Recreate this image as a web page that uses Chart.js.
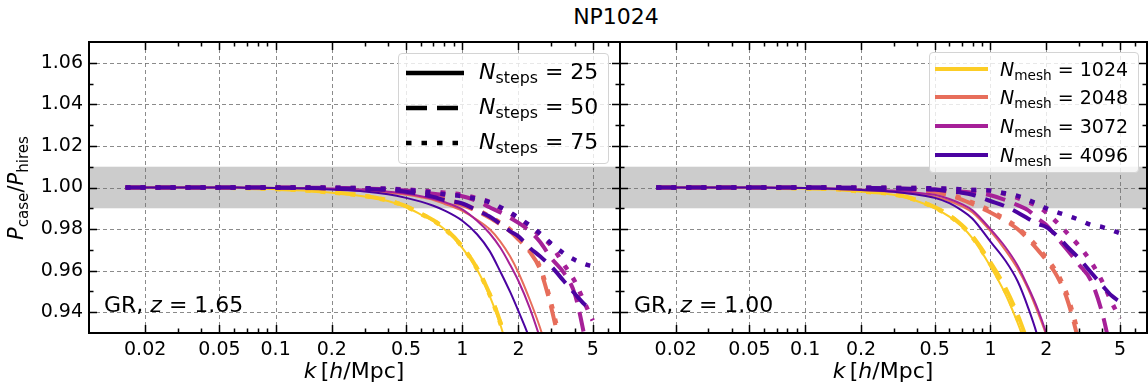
<!DOCTYPE html>
<html>
<head>
<meta charset="utf-8">
<script src="https://cdn.jsdelivr.net/npm/chart.js@4.4.1/dist/chart.umd.min.js"></script>
<style>
  body { margin: 0; background: #fff; }
  #wrap { position: relative; width: 1148px; height: 385px; overflow: hidden; font-family: "DejaVu Sans", sans-serif; color: #000; }
  canvas { position: absolute; }
  .t { position: absolute; white-space: nowrap; }
  .sb { font-size: 0.72em; position: relative; top: 0.3em; }
  .box { position: absolute; border: 1px solid #d4d4d4; border-radius: 4px; background: rgba(255,255,255,0.8); }
  .box svg { position: absolute; }
</style>
</head>
<body>
<div id="wrap">
  <canvas id="left" width="625" height="330" style="left:0;top:30px"></canvas>
  <canvas id="right" width="548" height="330" style="left:600px;top:30px"></canvas>

  <div class="t" style="left:516px;top:4px;width:200px;text-align:center;font-size:22px;line-height:26px">NP1024</div>

  <div class="t" style="left:-84px;top:175px;width:200px;height:26px;line-height:26px;text-align:center;font-size:21px;transform:rotate(-90deg)"><i>P</i><span class="sb">case</span>/<i>P</i><span class="sb">hires</span></div>
  <div class="t" style="left:254px;top:358px;width:200px;text-align:center;font-size:22px;line-height:26px"><i>k</i>&#8201;[<i>h</i>/Mpc]</div>
  <div class="t" style="left:783px;top:358px;width:200px;text-align:center;font-size:22px;line-height:26px"><i>k</i>&#8201;[<i>h</i>/Mpc]</div>

  <div class="t" style="left:104px;top:292px;font-size:22px;line-height:26px">GR, <i>z</i> = 1.65</div>
  <div class="t" style="left:634px;top:292px;font-size:22px;line-height:26px">GR, <i>z</i> = 1.00</div>

  <div class="box" id="legSteps" style="left:398px;top:53px;width:209px;height:109px"></div>
  <div class="box" id="legMesh" style="left:929px;top:52px;width:208px;height:119px"></div>
</div>

<script>
// wavenumber grid shared by every curve, k in h/Mpc
const kVals = [0.0157, 0.02, 0.03, 0.05, 0.07, 0.1, 0.15, 0.2, 0.3, 0.4, 0.5, 0.6, 0.7, 0.8,
               1.0, 1.2, 1.4, 1.6, 1.8, 2.0, 2.3, 2.6, 3.0, 3.5, 4.0, 4.5, 5.0];

const meshes = [1024, 2048, 3072, 4096];
const steps = [25, 50, 75];
const meshColors = ['#fccd25', '#e76e5b', '#a62098', '#4b03a1'];

const xMajor = [0.02, 0.05, 0.1, 0.2, 0.5, 1, 2, 5];
const xMinor = [0.03, 0.04, 0.06, 0.07, 0.08, 0.09, 0.3, 0.4, 0.6, 0.7, 0.8, 0.9, 3, 4, 6, 7];
const yMajor = [0.94, 0.96, 0.98, 1.00, 1.02, 1.04, 1.06];
const yMinor = [0.95, 0.97, 0.99, 1.01, 1.03, 1.05];
const band = [0.99, 1.01];

// ---- z = 1.65 : P_case / P_hires ----
const z165_m1024_s25 = [1.0,1.0,1.0,0.9999,0.9997,0.9992,0.9984,0.9975,0.9957,0.9935,0.9905,0.9870,0.9838,0.9800,0.9710,0.9605,0.9480,0.9340,0.9180,null,null,null,null,null,null,null,null];
const z165_m1024_s50 = [1.0,1.0,1.0,0.9999,0.9997,0.9993,0.9986,0.9977,0.9960,0.9938,0.9910,0.9875,0.9843,0.9806,0.9717,0.9612,0.9490,0.9352,0.9195,null,null,null,null,null,null,null,null];
const z165_m1024_s75 = [1.0,1.0,1.0,0.9999,0.9997,0.9993,0.9985,0.9976,0.9959,0.9937,0.9908,0.9873,0.9841,0.9803,0.9714,0.9609,0.9486,0.9347,0.9190,null,null,null,null,null,null,null,null];
const z165_m2048_s25 = [1.0,1.0,1.0,1.0,0.9999,0.9998,0.9996,0.9992,0.9985,0.9975,0.9965,0.9953,0.9940,0.9922,0.9888,0.9845,0.9800,0.9740,0.9670,0.9590,0.9460,0.9330,0.9150,null,null,null,null];
const z165_m2048_s50 = [1.0,1.0,1.0,1.0,1.0,0.9999,0.9998,0.9996,0.9992,0.9987,0.9980,0.9968,0.9955,0.9940,0.9915,0.9885,0.9855,0.9822,0.9790,0.9750,0.9690,0.9610,0.9420,0.9150,null,null,null];
const z165_m2048_s75 = [1.0,1.0,1.0,1.0,1.0,0.9999,0.9998,0.9997,0.9993,0.9988,0.9982,0.9971,0.9959,0.9945,0.9920,0.9892,0.9862,0.9830,0.9798,0.9760,0.9700,0.9620,0.9440,0.9180,null,null,null];
const z165_m3072_s25 = [1.0,1.0,1.0,1.0,0.9999,0.9998,0.9997,0.9995,0.9990,0.9980,0.9970,0.9958,0.9945,0.9930,0.9895,0.9840,0.9780,0.9710,0.9630,0.9550,0.9420,0.9280,0.9100,null,null,null,null];
const z165_m3072_s50 = [1.0,1.0,1.0,1.0,1.0,1.0,0.9999,0.9998,0.9995,0.9990,0.9985,0.9978,0.9970,0.9965,0.9958,0.9935,0.9905,0.9880,0.9855,0.9830,0.9790,0.9740,0.9660,0.9590,0.9490,0.9290,0.9050];
const z165_m3072_s75 = [1.0,1.0,1.0,1.0,1.0,1.0,1.0,0.9999,0.9997,0.9994,0.9990,0.9985,0.9980,0.9975,0.9965,0.9948,0.9930,0.9900,0.9875,0.9850,0.9810,0.9770,0.9720,0.9630,0.9550,0.9450,0.9360];
const z165_m4096_s25 = [1.0,1.0,1.0,1.0,0.9999,0.9998,0.9995,0.9990,0.9981,0.9967,0.9950,0.9932,0.9912,0.9890,0.9840,0.9775,0.9695,0.9595,0.9500,0.9405,0.9270,0.9120,null,null,null,null,null];
const z165_m4096_s50 = [1.0,1.0,1.0,1.0,1.0,0.9999,0.9998,0.9996,0.9993,0.9988,0.9980,0.9968,0.9955,0.9940,0.9923,0.9890,0.9860,0.9825,0.9790,0.9765,0.9710,0.9670,0.9620,0.9550,0.9490,0.9440,0.9410];
const z165_m4096_s75 = [1.0,1.0,1.0,1.0,1.0,1.0,1.0,0.9999,0.9997,0.9993,0.9988,0.9982,0.9975,0.9968,0.9958,0.9945,0.9930,0.9905,0.9880,0.9855,0.9818,0.9780,0.9730,0.9683,0.9652,0.9632,0.9620];

// ---- z = 1.00 ----
const z100_m1024_s25 = [1.0,1.0,1.0,0.9999,0.9998,0.9995,0.9990,0.9980,0.9965,0.9935,0.9900,0.9860,0.9812,0.9755,0.9620,0.9490,0.9350,0.9210,null,null,null,null,null,null,null,null,null];
const z100_m1024_s50 = [1.0,1.0,1.0,0.9999,0.9998,0.9996,0.9991,0.9982,0.9968,0.9940,0.9906,0.9867,0.9820,0.9765,0.9640,0.9520,0.9390,0.9250,null,null,null,null,null,null,null,null,null];
const z100_m1024_s75 = [1.0,1.0,1.0,0.9999,0.9998,0.9996,0.9991,0.9981,0.9967,0.9938,0.9903,0.9864,0.9816,0.9760,0.9630,0.9505,0.9370,0.9230,null,null,null,null,null,null,null,null,null];
const z100_m2048_s25 = [1.0,1.0,1.0,1.0,0.9999,0.9997,0.9993,0.9988,0.9978,0.9968,0.9955,0.9935,0.9910,0.9880,0.9790,0.9700,0.9610,0.9510,0.9400,0.9290,0.9100,null,null,null,null,null,null];
const z100_m2048_s50 = [1.0,1.0,1.0,1.0,1.0,0.9999,0.9997,0.9995,0.9990,0.9985,0.9978,0.9962,0.9942,0.9920,0.9880,0.9840,0.9800,0.9750,0.9700,0.9650,0.9570,0.9460,0.9260,null,null,null,null];
const z100_m2048_s75 = [1.0,1.0,1.0,1.0,1.0,0.9999,0.9998,0.9996,0.9992,0.9987,0.9981,0.9967,0.9948,0.9927,0.9888,0.9848,0.9808,0.9760,0.9712,0.9662,0.9585,0.9480,0.9290,null,null,null,null];
const z100_m3072_s25 = [1.0,1.0,1.0,1.0,0.9999,0.9998,0.9995,0.9990,0.9985,0.9975,0.9965,0.9945,0.9920,0.9890,0.9800,0.9715,0.9625,0.9520,0.9415,0.9300,0.9120,null,null,null,null,null,null];
const z100_m3072_s50 = [1.0,1.0,1.0,1.0,1.0,1.0,0.9999,0.9998,0.9996,0.9993,0.9990,0.9985,0.9980,0.9975,0.9963,0.9940,0.9915,0.9890,0.9850,0.9820,0.9755,0.9700,0.9630,0.9550,0.9400,0.9200,null];
const z100_m3072_s75 = [1.0,1.0,1.0,1.0,1.0,1.0,1.0,0.9999,0.9998,0.9997,0.9995,0.9993,0.9990,0.9988,0.9985,0.9968,0.9950,0.9930,0.9910,0.9880,0.9830,0.9780,0.9720,0.9640,0.9550,0.9450,0.9370];
const z100_m4096_s25 = [1.0,1.0,1.0,1.0,0.9999,0.9997,0.9993,0.9988,0.9980,0.9966,0.9950,0.9925,0.9890,0.9850,0.9740,0.9650,0.9550,0.9420,0.9280,0.9100,null,null,null,null,null,null,null];
const z100_m4096_s50 = [1.0,1.0,1.0,1.0,1.0,1.0,0.9999,0.9998,0.9996,0.9993,0.9990,0.9982,0.9975,0.9965,0.9935,0.9910,0.9880,0.9850,0.9825,0.9810,0.9765,0.9715,0.9660,0.9590,0.9530,0.9480,0.9450];
const z100_m4096_s75 = [1.0,1.0,1.0,1.0,1.0,1.0,1.0,0.9999,0.9998,0.9997,0.9996,0.9994,0.9991,0.9988,0.9985,0.9972,0.9960,0.9940,0.9920,0.9900,0.9880,0.9865,0.9845,0.9820,0.9810,0.9795,0.9780];

const panelLeft = [
  [z165_m1024_s25, z165_m1024_s50, z165_m1024_s75],
  [z165_m2048_s25, z165_m2048_s50, z165_m2048_s75],
  [z165_m3072_s25, z165_m3072_s50, z165_m3072_s75],
  [z165_m4096_s25, z165_m4096_s50, z165_m4096_s75]
];
const panelRight = [
  [z100_m1024_s25, z100_m1024_s50, z100_m1024_s75],
  [z100_m2048_s25, z100_m2048_s50, z100_m2048_s75],
  [z100_m3072_s25, z100_m3072_s50, z100_m3072_s75],
  [z100_m4096_s25, z100_m4096_s50, z100_m4096_s75]
];

// line look per N_steps: solid / dashed / dotted
const stepStyle = [
  { width: 2,   dash: [] },
  { width: 4,   dash: [20, 10] },
  { width: 4.5, dash: [5, 10] }
];

function buildDatasets(panel) {
  const out = [];
  meshes.forEach((m, i) => {
    steps.forEach((s, j) => {
      out.push({
        label: 'Nmesh=' + m + ' Nsteps=' + s,
        data: kVals.map((k, n) => ({ x: k, y: panel[i][j][n] })),
        borderColor: meshColors[i],
        borderWidth: stepStyle[j].width,
        borderDash: stepStyle[j].dash,
        borderCapStyle: 'butt',
        pointRadius: 0,
        cubicInterpolationMode: 'monotone',
        spanGaps: false,
        clip: 0
      });
    });
  });
  // Chart.js paints the first dataset last, so flip to keep 4096 on top
  return out.reverse();
}

// grey tolerance band, dashed grid, frame and inward ticks
const axesBox = {
  id: 'axesBox',
  beforeDraw(chart) {
    const { ctx, chartArea: a, scales: { x, y } } = chart;
    ctx.save();
    const yt = y.getPixelForValue(band[1]), yb = y.getPixelForValue(band[0]);
    ctx.fillStyle = '#cccccc';
    ctx.fillRect(a.left, yt, a.right - a.left, yb - yt);
    ctx.strokeStyle = 'rgba(110,110,110,0.8)';
    ctx.lineWidth = 1;
    ctx.setLineDash([4, 3]);
    xMajor.forEach(v => {
      const px = Math.round(x.getPixelForValue(v)) + 0.5;
      ctx.beginPath(); ctx.moveTo(px, a.top); ctx.lineTo(px, a.bottom); ctx.stroke();
    });
    yMajor.forEach(v => {
      const py = Math.round(y.getPixelForValue(v)) + 0.5;
      ctx.beginPath(); ctx.moveTo(a.left, py); ctx.lineTo(a.right, py); ctx.stroke();
    });
    ctx.restore();
  },
  afterDraw(chart) {
    const { ctx, chartArea: a, scales: { x, y } } = chart;
    ctx.save();
    ctx.strokeStyle = '#000';
    ctx.lineWidth = 1.5;
    const vt = (v, len) => {
      const px = Math.round(x.getPixelForValue(v)) + 0.5;
      if (px <= a.left || px >= a.right) return;
      ctx.beginPath();
      ctx.moveTo(px, a.bottom); ctx.lineTo(px, a.bottom - len);
      ctx.moveTo(px, a.top); ctx.lineTo(px, a.top + len);
      ctx.stroke();
    };
    const ht = (v, len) => {
      const py = Math.round(y.getPixelForValue(v)) + 0.5;
      ctx.beginPath();
      ctx.moveTo(a.left, py); ctx.lineTo(a.left + len, py);
      ctx.moveTo(a.right, py); ctx.lineTo(a.right - len, py);
      ctx.stroke();
    };
    xMajor.forEach(v => vt(v, 8));
    xMinor.forEach(v => vt(v, 4.5));
    yMajor.forEach(v => ht(v, 8));
    yMinor.forEach(v => ht(v, 4.5));
    ctx.lineWidth = 2;
    ctx.strokeRect(a.left, a.top, a.right - a.left, a.bottom - a.top);
    ctx.restore();
  }
};

// keep label overhang from moving the plot frame
function noOverhang(s) {
  s.paddingTop = 0; s.paddingBottom = 0; s.paddingLeft = 0; s.paddingRight = 0;
}

function makePanel(id, panel, showY, yWidth, padRight) {
  const tickFont = { family: 'DejaVu Sans', size: 19 };
  return new Chart(document.getElementById(id), {
    type: 'line',
    data: { datasets: buildDatasets(panel) },
    options: {
      responsive: false,
      animation: false,
      devicePixelRatio: 1,
      layout: { padding: { left: 0, top: 12, right: padRight, bottom: 0 } },
      plugins: { legend: { display: false }, tooltip: { enabled: false } },
      scales: {
        x: {
          type: 'logarithmic',
          min: 0.01,
          max: 7,
          afterBuildTicks: s => { s.ticks = xMajor.map(v => ({ value: v })); },
          afterFit: s => { s.height = 27; noOverhang(s); },
          grid: { display: false, drawTicks: false },
          border: { display: false },
          ticks: { color: '#000', font: tickFont, padding: 6, autoSkip: false, maxRotation: 0,
                   callback: v => String(v) }
        },
        y: {
          type: 'linear',
          min: 0.93,
          max: 1.07,
          afterBuildTicks: s => { s.ticks = yMajor.map(v => ({ value: v })); },
          afterFit: s => { s.width = yWidth; noOverhang(s); },
          grid: { display: false, drawTicks: false },
          border: { display: false },
          ticks: { display: showY, color: '#000', font: tickFont, padding: 6,
                   callback: v => v.toFixed(2) }
        }
      }
    },
    plugins: [axesBox]
  });
}

makePanel('left', panelLeft, true, 89, 5);
makePanel('right', panelRight, false, 20, 1);

// legends: line samples as small svg strokes next to the labels
function legendRow(box, top, lineX, lineW, lineY, stroke, width, dash, textX, fontSize, html) {
  const svg = document.createElementNS('http://www.w3.org/2000/svg', 'svg');
  svg.setAttribute('width', lineW);
  svg.setAttribute('height', 12);
  svg.style.left = lineX + 'px';
  svg.style.top = (lineY - 6) + 'px';
  const ln = document.createElementNS('http://www.w3.org/2000/svg', 'line');
  ln.setAttribute('x1', 0); ln.setAttribute('y1', 6);
  ln.setAttribute('x2', lineW); ln.setAttribute('y2', 6);
  ln.setAttribute('stroke', stroke);
  ln.setAttribute('stroke-width', width);
  if (dash) ln.setAttribute('stroke-dasharray', dash);
  svg.appendChild(ln);
  box.appendChild(svg);
  const t = document.createElement('div');
  t.className = 't';
  t.style.left = textX + 'px';
  t.style.top = top + 'px';
  t.style.fontSize = fontSize + 'px';
  t.style.lineHeight = (fontSize + 4) + 'px';
  t.innerHTML = html;
  box.appendChild(t);
}

const legSteps = document.getElementById('legSteps');
const stepDash = [null, '21 10', '5.5 10'];
steps.forEach((s, j) => {
  legendRow(legSteps, 4.5 + 35 * j, 7, 58, 18.5 + 35 * j, '#000', 4.5, stepDash[j], 80, 22,
            '<i>N</i><span class="sb">steps</span> = ' + s);
});

const legMesh = document.getElementById('legMesh');
const meshRowY = [15.5, 43.8, 72.5, 101.5];
meshes.forEach((m, i) => {
  legendRow(legMesh, meshRowY[i] - 10.5, 5, 53, meshRowY[i], meshColors[i], 4, null, 70, 19,
            '<i>N</i><span class="sb">mesh</span> = ' + m);
});
</script>
</body>
</html>
